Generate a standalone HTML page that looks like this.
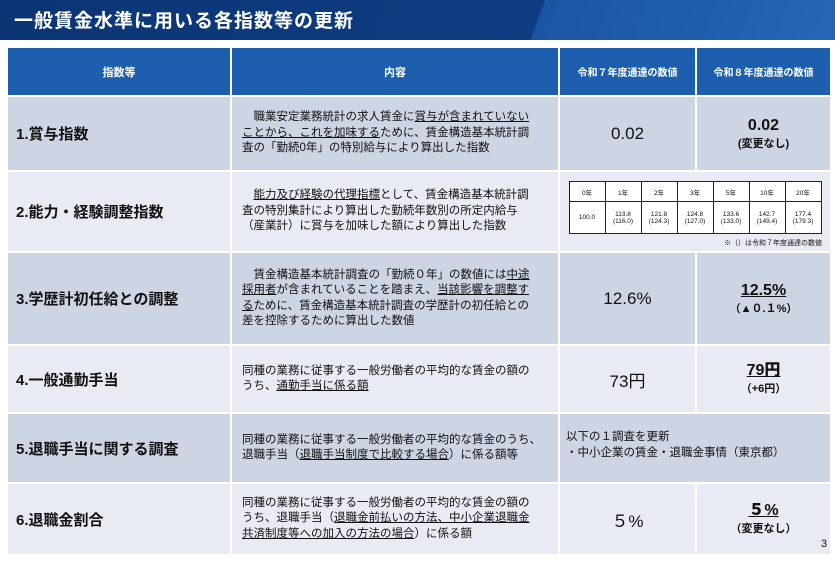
<!DOCTYPE html>
<html><head><meta charset="utf-8"><style>
body{margin:0;width:835px;height:561px;background:#fff;position:relative;overflow:hidden;font-family:"Liberation Sans","Noto Sans CJK JP",sans-serif;color:#111}
.t{position:absolute;left:0;top:0;width:835px;height:40px;background:linear-gradient(110deg,#0b3575 0%,#0e3d82 64%,#1b55a3 64.3%,#2466b5 100%)}
.t span{position:absolute;left:14px;top:6px;color:#fff;font-weight:bold;font-size:19px;letter-spacing:1px}
.c{position:absolute;display:flex;align-items:center;box-sizing:border-box}
.h{background:#1d5fae;color:#fff;font-weight:bold;justify-content:center;font-size:11px}
.d{background:#cdd4e3}.l{background:#e8ebf3}
.lab{font-weight:bold;font-size:15px;padding-left:8px}
.txt{font-size:11.5px;line-height:15.5px;padding-left:10px}
.num{justify-content:center;font-size:17px}
.new{flex-direction:column;justify-content:center;font-weight:bold;text-align:center}
.new b{font-size:16px;line-height:18px}.new i{font-style:normal;font-size:11px}
u{text-decoration:underline}
table{border-collapse:collapse;font-size:6.5px}
td{border:1px solid #222;text-align:center;width:33px;background:#fff}
</style></head><body>
<div class="t"><span>一般賃金水準に用いる各指数等の更新</span></div>
<div class="c h" style="left:8px;top:48px;width:222px;height:47px">指数等</div>
<div class="c h" style="left:232px;top:48px;width:326px;height:47px">内容</div>
<div class="c h" style="left:560px;top:48px;width:135px;height:47px;font-size:10px">令和７年度通達の数値</div>
<div class="c h" style="left:697px;top:48px;width:133px;height:47px;font-size:10px">令和８年度通達の数値</div>

<div class="c d lab" style="left:8px;top:97px;width:222px;height:73px">1.賞与指数</div>
<div class="c d txt" style="left:232px;top:97px;width:326px;height:73px"><div>&emsp;職業安定業務統計の求人賃金に<u>賞与が含まれていない<br>ことから、これを加味する</u>ために、賃金構造基本統計調<br>査の「勤続0年」の特別給与により算出した指数</div></div>
<div class="c d num" style="left:560px;top:97px;width:135px;height:73px">0.02</div>
<div class="c d new" style="left:697px;top:97px;width:133px;height:73px"><b>0.02</b><i>(変更なし)</i></div>

<div class="c l lab" style="left:8px;top:172px;width:222px;height:79px">2.能力・経験調整指数</div>
<div class="c l txt" style="left:232px;top:172px;width:326px;height:79px"><div>&emsp;<u>能力及び経験の代理指標</u>として、賃金構造基本統計調<br>査の特別集計により算出した勤続年数別の所定内給与<br>（産業計）に賞与を加味した額により算出した指数</div></div>
<div class="c l" style="left:560px;top:172px;width:270px;height:79px;flex-direction:column;align-items:center;justify-content:flex-start;padding-top:9px">
<table><tr style="height:20px"><td>0年</td><td>1年</td><td>2年</td><td>3年</td><td>5年</td><td>10年</td><td>20年</td></tr>
<tr style="height:32px"><td>100.0</td><td>113.8<br>(116.0)</td><td>121.8<br>(124.3)</td><td>124.8<br>(127.0)</td><td>133.6<br>(133.0)</td><td>142.7<br>(149.4)</td><td>177.4<br>(179.3)</td></tr></table>
<div style="font-size:7px;align-self:flex-end;margin:4px 8px 0 0">※（）は令和７年度通達の数値</div></div>

<div class="c d lab" style="left:8px;top:253px;width:222px;height:91px">3.学歴計初任給との調整</div>
<div class="c d txt" style="left:232px;top:253px;width:326px;height:91px"><div>&emsp;賃金構造基本統計調査の「勤続０年」の数値には<u>中途<br>採用者</u>が含まれていることを踏まえ、<u>当該影響を調整す<br>る</u>ために、賃金構造基本統計調査の学歴計の初任給との<br>差を控除するために算出した数値</div></div>
<div class="c d num" style="left:560px;top:253px;width:135px;height:91px">12.6%</div>
<div class="c d new" style="left:697px;top:253px;width:133px;height:91px"><b><u>12.5%</u></b><i>（▲０.１%）</i></div>

<div class="c l lab" style="left:8px;top:346px;width:222px;height:66px">4.一般通勤手当</div>
<div class="c l txt" style="left:232px;top:346px;width:326px;height:66px"><div>同種の業務に従事する一般労働者の平均的な賃金の額の<br>うち、<u>通勤手当に係る額</u></div></div>
<div class="c l num" style="left:560px;top:346px;width:135px;height:66px">73円</div>
<div class="c l new" style="left:697px;top:346px;width:133px;height:66px"><b><u>79円</u></b><i>（+6円）</i></div>

<div class="c d lab" style="left:8px;top:414px;width:222px;height:68px">5.退職手当に関する調査</div>
<div class="c d txt" style="left:232px;top:414px;width:326px;height:68px"><div>同種の業務に従事する一般労働者の平均的な賃金のうち、<br>退職手当（<u>退職手当制度で比較する場合</u>）に係る額等</div></div>
<div class="c d txt" style="left:560px;top:414px;width:270px;height:68px;padding-left:6px;align-items:flex-start;padding-top:16px"><div>以下の１調査を更新<br>・中小企業の賃金・退職金事情（東京都）</div></div>

<div class="c l lab" style="left:8px;top:484px;width:222px;height:70px">6.退職金割合</div>
<div class="c l txt" style="left:232px;top:484px;width:326px;height:70px"><div>同種の業務に従事する一般労働者の平均的な賃金の額の<br>うち、退職手当（<u>退職金前払いの方法、中小企業退職金<br>共済制度等への加入の方法の場合</u>）に係る額</div></div>
<div class="c l num" style="left:560px;top:484px;width:135px;height:70px">５%</div>
<div class="c l new" style="left:697px;top:484px;width:133px;height:70px"><b><u>５%</u></b><i>（変更なし）</i></div>
<div style="position:absolute;left:821px;top:538px;font-size:11px">3</div>
</body></html>
